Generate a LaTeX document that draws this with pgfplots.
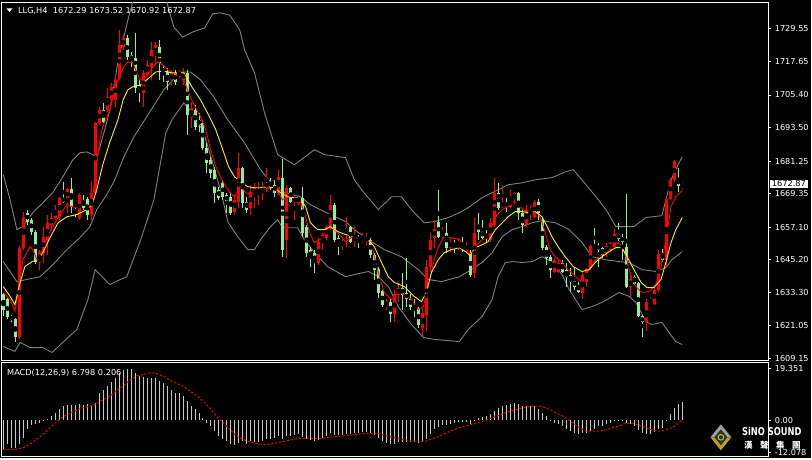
\documentclass[border=0pt]{standalone}
\usepackage{fontspec}
\setmainfont{DejaVu Sans}
\newfontfamily\cjk{Noto Sans CJK TC}
\usepackage{pgfplots}
\usepackage{pgfplotstable}
\pgfplotsset{compat=1.18}
\definecolor{upc}{RGB}{255,0,0}
\definecolor{dnc}{RGB}{144,238,144}
\definecolor{bandc}{RGB}{128,128,128}
\definecolor{histc}{RGB}{200,200,200}
\definecolor{goldc}{RGB}{190,160,20}

\pgfplotstableread{
k o h l c
4 1616.8 1650.4 1616.1 1649.6
5 1649.6 1662.8 1648.9 1660.6
9 1644.5 1648.9 1641.6 1648.2
10 1647.8 1657.3 1644.1 1653.6
11 1652.5 1661.7 1647.1 1658.7
12 1658.0 1662.4 1656.2 1660.6
13 1660.6 1665.3 1659.8 1663.5
14 1660.9 1668.2 1659.8 1667.9
16 1667.1 1671.5 1662.4 1671.2
19 1660.6 1669.7 1659.8 1669.0
22 1661.7 1673.7 1659.8 1669.7
23 1669.7 1695.6 1669.0 1695.2
24 1695.2 1701.1 1694.5 1700.0
26 1700.0 1708.0 1699.2 1704.7
27 1703.6 1709.8 1702.5 1708.4
28 1703.6 1712.7 1701.1 1710.9
29 1711.6 1729.2 1710.9 1723.7
30 1723.0 1727.3 1721.9 1726.2
35 1706.2 1714.6 1701.1 1713.5
36 1712.7 1718.2 1712.0 1716.4
37 1715.7 1724.8 1710.9 1721.9
38 1720.0 1724.8 1716.4 1723.7
42 1710.9 1714.6 1709.1 1713.5
44 1712.7 1714.6 1711.7 1713.5
45 1710.9 1715.3 1709.1 1713.8
47 1697.4 1702.9 1693.4 1700.7
58 1662.8 1669.0 1661.7 1667.1
59 1666.4 1684.3 1664.2 1678.8
62 1664.2 1672.6 1661.7 1670.1
63 1669.0 1673.3 1664.2 1671.5
64 1669.7 1673.7 1665.3 1670.8
65 1670.1 1673.7 1667.1 1671.5
66 1671.5 1678.8 1670.1 1673.3
69 1669.7 1678.1 1669.0 1675.5
71 1652.5 1672.6 1646.0 1671.5
73 1666.4 1668.2 1659.8 1667.9
74 1666.1 1669.0 1665.3 1668.2
79 1644.1 1653.3 1643.4 1651.8
80 1651.8 1655.1 1648.9 1654.4
81 1653.3 1658.0 1652.5 1657.3
82 1657.3 1669.0 1656.2 1665.3
85 1650.0 1653.3 1648.9 1651.4
86 1655.1 1660.9 1650.0 1656.9
88 1651.8 1657.3 1650.0 1653.3
90 1651.8 1655.1 1651.4 1652.9
91 1652.2 1655.1 1650.7 1653.3
96 1628.5 1630.7 1627.0 1629.6
98 1625.2 1634.3 1622.6 1632.5
99 1632.5 1636.8 1629.9 1635.0
105 1620.4 1627.7 1617.2 1625.9
106 1625.2 1645.2 1619.0 1642.7
107 1642.7 1655.1 1640.9 1652.5
108 1653.3 1659.8 1649.6 1656.6
110 1653.6 1657.3 1653.3 1655.1
112 1649.6 1653.3 1648.2 1651.4
114 1649.6 1653.3 1648.9 1651.1
116 1648.9 1651.8 1647.8 1650.0
118 1640.5 1660.6 1638.7 1655.1
122 1652.5 1660.6 1651.8 1658.7
123 1658.0 1675.2 1657.3 1669.7
125 1664.6 1672.6 1664.2 1666.1
127 1664.6 1670.8 1664.2 1667.5
128 1667.5 1670.1 1666.4 1669.7
131 1658.0 1665.3 1657.3 1663.5
132 1662.4 1665.3 1659.8 1663.8
133 1660.9 1667.1 1660.6 1666.4
138 1640.9 1646.0 1640.5 1645.2
139 1640.9 1645.2 1640.5 1644.1
145 1633.2 1640.9 1630.7 1639.8
146 1637.2 1642.3 1635.4 1642.0
147 1642.0 1650.7 1641.6 1650.4
151 1647.8 1651.4 1646.3 1650.4
152 1648.9 1651.8 1648.2 1651.4
153 1650.0 1656.6 1649.6 1654.7
157 1635.4 1640.9 1631.7 1638.3
161 1622.3 1630.7 1619.0 1629.6
162 1629.2 1631.7 1628.8 1629.9
163 1629.2 1635.0 1628.8 1634.3
164 1634.3 1648.9 1633.6 1647.4
166 1645.2 1667.9 1642.7 1667.5
167 1667.5 1675.2 1667.1 1674.4
168 1674.4 1681.7 1673.7 1681.4
170 1672.29 1673.52 1670.92 1672.87
}\upcandles

\pgfplotstableread{
k o h l c
0 1632.5 1633.2 1624.8 1627.0
1 1630.7 1631.4 1623.4 1624.1
2 1624.5 1625.2 1622.6 1623.4
3 1623.4 1624.1 1615.3 1616.8
6 1662.4 1663.5 1658.0 1659.1
7 1659.8 1660.6 1654.4 1655.5
8 1655.5 1656.2 1643.8 1644.5
15 1667.9 1673.7 1666.1 1666.4
17 1671.2 1675.2 1662.4 1664.6
18 1663.5 1664.6 1660.9 1662.4
20 1667.1 1669.0 1663.5 1664.2
21 1667.5 1668.2 1659.8 1661.7
25 1700.0 1702.5 1695.2 1695.6
31 1726.2 1727.3 1718.2 1719.3
32 1720.0 1721.1 1715.7 1718.2
33 1718.9 1728.1 1706.2 1708.0
34 1709.1 1710.9 1702.9 1706.5
39 1722.9 1725.5 1710.9 1717.1
40 1715.3 1716.4 1710.2 1713.8
41 1713.8 1715.3 1707.3 1710.2
43 1713.5 1714.6 1709.1 1710.2
46 1713.5 1714.6 1690.9 1698.2
48 1700.0 1701.8 1692.7 1693.8
49 1696.3 1698.9 1691.9 1694.5
50 1695.2 1696.3 1685.4 1686.1
51 1686.1 1687.9 1677.0 1680.6
52 1681.7 1682.8 1675.2 1677.0
53 1678.1 1679.2 1666.1 1669.7
54 1670.8 1671.9 1667.1 1667.9
55 1673.3 1674.4 1667.1 1668.2
56 1669.0 1669.7 1662.4 1666.4
57 1668.2 1670.1 1661.7 1662.4
60 1678.8 1679.2 1664.2 1666.1
61 1666.4 1668.2 1662.4 1663.5
67 1673.7 1675.2 1670.8 1671.5
68 1672.6 1674.4 1668.2 1669.7
70 1675.2 1682.1 1646.3 1648.9
72 1671.5 1671.9 1666.1 1666.4
75 1667.9 1671.9 1653.6 1655.1
76 1657.3 1658.0 1646.3 1647.8
77 1648.9 1650.0 1642.7 1646.0
78 1647.8 1648.9 1640.5 1644.1
83 1665.3 1666.1 1651.8 1652.5
84 1653.3 1654.4 1647.1 1650.7
87 1657.3 1657.6 1651.4 1651.8
89 1653.6 1654.4 1649.6 1652.2
92 1652.5 1653.3 1646.0 1647.1
93 1647.1 1647.8 1637.9 1641.6
94 1642.0 1642.7 1631.4 1633.2
95 1633.6 1634.3 1628.1 1628.8
97 1629.9 1631.4 1622.6 1625.2
100 1635.0 1640.5 1627.0 1632.5
101 1633.2 1646.0 1628.1 1630.7
102 1631.0 1632.5 1627.0 1628.1
103 1628.8 1630.7 1624.1 1627.0
104 1627.7 1628.1 1620.4 1621.5
109 1659.1 1670.8 1653.3 1653.6
111 1655.1 1658.7 1647.8 1649.6
113 1651.4 1652.5 1647.8 1650.0
115 1650.4 1653.6 1648.2 1649.3
117 1647.8 1648.9 1639.0 1639.8
119 1658.4 1662.4 1652.5 1655.5
120 1655.8 1659.8 1652.5 1653.3
121 1654.4 1656.2 1651.8 1652.9
124 1669.7 1673.3 1663.5 1664.2
126 1666.4 1667.9 1662.8 1664.6
129 1669.7 1670.1 1659.8 1662.4
130 1662.4 1663.5 1655.1 1658.0
134 1666.4 1667.5 1659.8 1662.4
135 1659.8 1660.9 1648.9 1649.6
136 1650.0 1650.7 1643.4 1646.0
137 1646.3 1647.1 1638.7 1641.6
140 1644.1 1645.2 1640.5 1640.9
141 1641.6 1644.1 1635.4 1639.0
142 1639.8 1642.3 1633.6 1637.2
143 1637.6 1642.3 1634.3 1635.4
144 1636.1 1637.2 1633.2 1633.6
148 1650.4 1656.9 1649.6 1650.0
149 1650.4 1651.4 1642.7 1648.9
150 1649.6 1650.0 1646.0 1647.1
154 1654.7 1658.7 1652.2 1652.9
155 1653.6 1654.7 1645.2 1651.8
156 1650.0 1669.3 1634.7 1635.4
158 1639.0 1639.8 1636.1 1636.5
159 1636.8 1637.2 1624.1 1624.5
160 1624.5 1625.2 1616.8 1622.3
165 1647.4 1649.3 1644.5 1645.2
169 1674.8 1678.8 1670.1 1672.3
}\dncandles

\begin{document}
\begin{tikzpicture}
\fill[black] (0pt,0pt) rectangle (812pt,459pt);

% ---------------- main price panel ----------------
\begin{axis}[
  at={(2pt,98pt)}, anchor=south west, scale only axis,
  width=767.5pt, height=358.5pt,
  xmin=-0.33, xmax=191.55, ymin=1608.41, ymax=1739.19,
  axis line style={white, line width=1pt},
  xtick=\empty,
  ytick={1609.15,1621.05,1633.30,1645.20,1657.10,1669.35,1681.25,1693.50,1705.40,1717.65,1729.55},
  yticklabels={1609.15,1621.05,1633.30,1645.20,1657.10,1669.35,1681.25,1693.50,1705.40,1717.65,1729.55},
  ytick pos=right, yticklabel pos=right,
  tick align=outside, major tick length=3pt,
  tick style={white, line width=0.8pt},
  yticklabel style={text=white, font=\fontsize{8.2}{9}\selectfont},
  /pgf/number format/assume math mode=true,
]
% Bollinger bands
\addplot[bandc, line width=0.9pt, mark=none] coordinates {
(0,1676.3) (1.7,1667.1) (3.4,1656.2) (4.9,1657.3) (7.4,1662.4) (9.9,1666.0) (12.4,1669.7) (14.9,1675.5) (17.4,1681.7) (19.2,1684.3) (20.9,1684.6) (22.4,1683.6) (23.4,1682.5) (24.2,1686.5) (25.4,1692.7) (26.7,1700.0) (28.7,1717.5) (30,1725.5) (31.2,1732.8) (32.4,1739.4) (34.2,1743.0) (36.7,1744.5) (39.2,1743.0) (40.9,1739.5) (42.7,1730.2) (44.9,1726.6) (47.4,1728.4) (50.4,1729.9) (52.4,1735.0) (54.2,1735.4) (56.7,1734.6) (59.2,1729.2) (60.4,1721.9) (62.9,1713.5) (65.4,1698.9) (68.7,1683.6) (72.9,1679.9) (77.9,1685.4) (80.4,1683.6) (85.7,1682.5) (87.9,1674.4) (89.7,1670.8) (93.9,1663.5) (97.2,1668.2) (99.7,1668.2) (102.2,1663.5) (105.4,1658.7) (107.9,1659.1) (111.4,1660.6) (114.2,1662.4) (116.4,1664.2) (119.9,1667.9) (122.4,1669.7) (126.4,1672.6) (129.9,1673.3) (133.2,1674.4) (137.4,1675.2) (140.7,1677.3) (142.7,1678.1) (144.9,1674.4) (148.4,1668.2) (150.9,1663.5) (153.4,1657.3) (157.9,1657.3) (160.9,1660.6) (164.9,1661.3) (165.9,1667.1) (167.2,1674.4) (169.2,1680.6) (170,1682.8)};
\addplot[bandc, line width=0.9pt, mark=none] coordinates {
(0,1644.5) (3.4,1637.2) (5.9,1638.0) (9.2,1639.0) (12.4,1643.4) (15.9,1648.9) (19.2,1653.3) (21.7,1657.3) (23.4,1663.5) (25.9,1669.0) (27.7,1673.7) (30.2,1682.8) (32.7,1690.1) (35.9,1697.4) (40.2,1707.3) (44.4,1713.8) (46.9,1713.8) (49.4,1710.9) (52.7,1704.7) (56.2,1696.3) (60.4,1687.9) (64.4,1678.1) (67.9,1671.9) (70.4,1669.7) (74.4,1668.2) (76.9,1665.3) (80.4,1662.8) (85.7,1659.1) (87.9,1656.2) (91.4,1652.5) (95.4,1648.9) (99.7,1646.3) (103.9,1641.6) (106.4,1638.0) (109.7,1637.2) (114.2,1639.0) (116.4,1640.9) (119.9,1644.2) (122.4,1647.8) (124.9,1653.6) (127.4,1656.2) (129.9,1657.3) (132.4,1658.7) (134.9,1659.5) (138.2,1658.7) (141.7,1656.2) (144.9,1651.5) (147.4,1646.3) (150.9,1645.2) (154.2,1644.5) (156.7,1644.2) (159.9,1641.6) (163.4,1640.9) (165.9,1642.3) (167.4,1645.2) (170,1648.2)};
\addplot[bandc, line width=0.9pt, mark=none] coordinates {
(0,1613.5) (2.9,1611.7) (4.2,1615.0) (6.7,1613.1) (9.9,1613.1) (12.2,1611.3) (14.9,1615.0) (18.4,1619.7) (21.2,1630.7) (23.0,1641.6) (24.2,1639.8) (26.7,1636.1) (27.7,1636.9) (30.9,1639.0) (34.4,1652.5) (37.7,1667.1) (40.7,1691.6) (42.2,1696.3) (45.2,1702.5) (47.7,1698.1) (50.2,1691.6) (52.7,1679.2) (54.7,1669.0) (56.2,1659.1) (58.7,1653.6) (61.2,1648.9) (62.9,1648.9) (64.4,1652.5) (66.9,1657.3) (68.7,1659.8) (69.9,1656.9) (73.7,1656.9) (75.4,1652.5) (77.9,1647.8) (81.2,1642.7) (85.7,1639.0) (87.9,1639.8) (91.4,1640.9) (93.9,1639.0) (96.4,1635.4) (98.9,1628.1) (102.2,1621.5) (105.2,1616.8) (107.9,1616.1) (114.2,1615.3) (116.4,1619.7) (119.9,1624.5) (122.4,1630.7) (123.9,1639.0) (125.7,1644.2) (127.7,1644.5) (129.9,1644.2) (132.4,1644.5) (134.9,1646.3) (137.4,1644.5) (139.9,1639.8) (141.7,1634.3) (144.9,1627.0) (147.4,1628.1) (149.9,1629.6) (154.2,1633.2) (156.7,1631.8) (158.4,1629.6) (160.9,1622.6) (162.4,1621.5) (164.9,1622.3) (166.7,1618.6) (168.4,1615.3) (170,1614.2)};

% candles: wicks
\addplot[only marks, mark=none, error bars/.cd, y dir=both, y explicit, error mark=none,
  error bar style={draw=upc, line width=1pt}]
  table[x=k, y expr={(\thisrow{h}+\thisrow{l})/2}, y error expr={(\thisrow{h}-\thisrow{l})/2}] {\upcandles};
\addplot[only marks, mark=none, error bars/.cd, y dir=both, y explicit, error mark=none,
  error bar style={draw=dnc, line width=1pt}]
  table[x=k, y expr={(\thisrow{h}+\thisrow{l})/2}, y error expr={(\thisrow{h}-\thisrow{l})/2}] {\dncandles};
% candles: bodies
\addplot[only marks, mark=none, error bars/.cd, y dir=both, y explicit, error mark=none,
  error bar style={draw=upc, line width=3pt}]
  table[x=k, y expr={(\thisrow{o}+\thisrow{c})/2}, y error expr={max(abs(\thisrow{c}-\thisrow{o})/2,0.2)}] {\upcandles};
\addplot[only marks, mark=none, error bars/.cd, y dir=both, y explicit, error mark=none,
  error bar style={draw=dnc, line width=3pt}]
  table[x=k, y expr={(\thisrow{o}+\thisrow{c})/2}, y error expr={max(abs(\thisrow{c}-\thisrow{o})/2,0.2)}] {\dncandles};

% fast moving average (red)
\addplot[upc, line width=0.9pt, mark=none] coordinates {
(0,1633.2) (1.7,1630.7) (2.9,1626.3) (3.9,1635.4) (4.9,1645.2) (6.7,1650.0) (7.4,1648.9) (8.4,1645.2) (9.7,1648.2) (10.9,1653.3) (12.4,1657.3) (14.2,1661.7) (15.9,1665.3) (17.2,1664.6) (18.4,1664.2) (19.9,1665.3) (21.2,1664.6) (22.2,1666.0) (23.2,1678.1) (24.2,1689.0) (24.9,1693.8) (26.7,1700.0) (27.7,1706.0) (28.4,1710.0) (29.5,1713.5) (30.3,1716.0) (31.2,1717.5) (32.4,1717.1) (33.4,1713.8) (34.2,1710.9) (34.9,1710.9) (36.2,1712.7) (37.4,1715.7) (38.7,1717.5) (39.9,1716.4) (41.2,1714.6) (42.4,1713.5) (43.7,1712.7) (44.9,1712.0) (45.9,1708.0) (47.2,1703.6) (48.4,1700.0) (49.4,1697.4) (50.7,1692.7) (51.9,1685.4) (53.2,1679.2) (54.4,1675.5) (55.7,1671.9) (57.2,1669.0) (57.9,1668.2) (59.4,1671.9) (60.7,1669.7) (61.9,1669.0) (63.7,1670.1) (65.4,1670.8) (66.9,1671.5) (68.7,1670.1) (69.9,1667.1) (71.2,1668.2) (72.9,1667.9) (74.2,1667.1) (75.4,1662.4) (76.7,1655.1) (77.9,1651.5) (79.2,1652.5) (80.4,1655.1) (81.7,1656.9) (82.9,1656.2) (84.2,1654.4) (85.7,1651.8) (87.2,1653.3) (89.7,1652.5) (92.2,1651.8) (92.9,1646.3) (94.2,1639.0) (95.4,1633.2) (97.2,1630.7) (98.9,1633.2) (100.4,1632.5) (102.2,1630.7) (103.9,1627.0) (105.2,1628.1) (106.4,1635.4) (107.7,1644.2) (108.9,1649.6) (110.2,1653.3) (112.2,1653.3) (114.2,1652.5) (115.7,1649.6) (116.9,1647.1) (118.2,1650.0) (119.9,1652.5) (121.4,1653.3) (123.2,1660.9) (124.9,1663.5) (126.4,1664.6) (127.7,1666.4) (128.9,1665.3) (130.2,1663.5) (131.4,1662.4) (133.2,1662.8) (134.4,1660.9) (135.7,1655.1) (136.9,1648.9) (138.2,1646.3) (139.9,1644.2) (141.4,1641.6) (143.4,1639.0) (144.9,1636.9) (146.2,1640.5) (147.9,1644.5) (149.9,1647.1) (151.7,1648.9) (153.4,1651.5) (154.7,1650.7) (155.9,1646.3) (157.2,1639.0) (158.4,1635.4) (159.9,1633.2) (161.7,1633.6) (163.4,1636.1) (164.7,1642.7) (165.9,1652.5) (167.2,1664.6) (168.4,1668.2) (170,1670.5)};
% slow moving average (yellow)
\addplot[yellow, line width=0.9pt, mark=none] coordinates {
(0,1635.4) (1.7,1631.8) (2.9,1628.8) (4.2,1636.9) (5.4,1642.7) (7.2,1644.5) (8.7,1645.2) (9.9,1647.8) (11.7,1653.3) (13.7,1658.7) (15.9,1660.9) (18.4,1661.7) (20.9,1663.5) (22.2,1665.3) (23.4,1670.8) (24.9,1679.9) (26.7,1688.3) (28.7,1696.3) (30,1703.6) (31.2,1707.3) (32.4,1708.4) (34.4,1709.1) (35.9,1710.9) (38.2,1713.8) (40.2,1714.2) (42.2,1713.5) (45.2,1713.5) (47.2,1708.4) (49.4,1703.6) (51.4,1698.1) (53.2,1692.7) (54.7,1686.5) (56.4,1679.2) (57.9,1675.5) (59.4,1673.7) (61.2,1671.9) (62.9,1671.5) (64.4,1671.5) (66.2,1671.9) (67.9,1671.5) (69.4,1669.7) (71.2,1668.2) (72.9,1667.9) (74.4,1667.5) (75.7,1664.6) (76.9,1658.7) (78.7,1656.2) (80.4,1656.2) (81.9,1657.3) (83.7,1655.5) (85.7,1654.4) (87.9,1653.6) (91.4,1652.5) (92.9,1650.0) (94.7,1644.2) (96.4,1639.0) (97.9,1636.9) (100.4,1635.4) (102.9,1631.8) (104.7,1629.9) (105.9,1633.2) (107.2,1640.5) (108.9,1645.2) (110.4,1647.8) (112.2,1648.9) (114.2,1649.6) (115.7,1648.2) (116.9,1646.7) (118.2,1649.6) (119.9,1650.7) (121.4,1651.8) (123.2,1656.2) (124.9,1658.7) (126.4,1660.9) (128.2,1662.8) (129.9,1662.8) (131.4,1662.4) (133.2,1662.8) (134.9,1660.9) (136.2,1657.3) (137.4,1653.6) (138.9,1650.0) (140.7,1646.3) (142.7,1642.7) (144.9,1640.9) (146.7,1641.6) (148.4,1644.5) (149.9,1646.3) (151.7,1648.2) (153.4,1649.6) (154.9,1649.6) (156.2,1646.3) (157.9,1641.6) (159.7,1636.9) (161.2,1635.0) (162.9,1635.0) (164.7,1638.0) (165.9,1644.2) (167.2,1651.5) (168.4,1656.2) (170,1660.6)};
\coordinate (pbox) at (axis cs:191.55,1672.87);
\end{axis}

% ---------------- MACD panel ----------------
\begin{axis}[
  at={(2pt,2pt)}, anchor=south west, scale only axis,
  width=767.5pt, height=94pt,
  xmin=-0.33, xmax=191.55, ymin=-13.40, ymax=21.59,
  axis line style={white, line width=1pt},
  xtick=\empty,
  ytick={-12.078,0,19.351},
  yticklabels={-12.078,0.00,19.351},
  ytick pos=right, yticklabel pos=right,
  tick align=outside, major tick length=3pt,
  tick style={white, line width=0.8pt},
  yticklabel style={text=white, font=\fontsize{8.2}{9}\selectfont},
  /pgf/number format/assume math mode=true,
]
\addplot[ycomb, histc, line width=1pt, mark=none] coordinates {
(0,-10.8) (1,-8.9) (2,-10.2) (3,-10.2) (4,-8.9) (5,-6.5) (6,-3.3) (7,-1.7) (8,-1.5) (9,-0.9) (10,-0.2) (11,0.4) (12,1.6) (13,2.9) (14,4.1) (15,5.3) (16,5.7) (17,5.7) (18,5.7) (19,6.2) (20,5.7) (21,6.0) (22,5.7) (23,6.6) (24,10.3) (25,11.3) (26,12.8) (27,14.3) (28,15.9) (29,17.5) (30,18.7) (31,19.0) (32,19.0) (33,17.7) (34,16.5) (35,16.3) (36,15.6) (37,15.6) (38,15.6) (39,14.6) (40,13.8) (41,12.8) (42,11.3) (43,10.3) (44,10.3) (45,9.1) (46,7.2) (47,5.3) (48,4.1) (49,2.9) (50,1.0) (51,-0.9) (52,-2.1) (53,-4.0) (54,-5.8) (55,-7.1) (56,-7.7) (57,-8.9) (58,-9.3) (59,-8.3) (60,-7.7) (61,-8.9) (62,-7.7) (63,-8.1) (64,-8.1) (65,-7.7) (66,-7.1)
(67,-6.8) (68,-6.5) (69,-6.0) (70,-7.0) (71,-6.0) (72,-5.8) (73,-5.4) (74,-5.1) (75,-6.3) (76,-7.0) (77,-7.5) (78,-7.8) (79,-7.3) (80,-6.7) (81,-5.9) (82,-4.9) (83,-5.3) (84,-5.5) (85,-5.4) (86,-5.0) (87,-5.0) (88,-4.8) (89,-4.6) (90,-4.4) (91,-4.2) (92,-4.6) (93,-5.4) (94,-6.6) (95,-7.7) (96,-8.3) (97,-9.0) (98,-8.7) (99,-8.2) (100,-8.0) (101,-7.9) (102,-8.0) (103,-8.1) (104,-8.5) (105,-8.2) (106,-6.8) (107,-5.0) (108,-3.4) (109,-2.5) (110,-1.8) (111,-1.6) (112,-1.2) (113,-0.9) (114,-0.7) (115,-0.6) (116,-0.5) (117,-1.2) (118,0.3) (119,1.0) (120,1.4) (121,1.7) (122,2.3) (123,3.5) (124,4.5) (125,5.2) (126,5.7) (127,6.1) (128,6.5) (129,6.0) (130,5.5) (131,5.3) (132,5.2) (133,5.2) (134,4.3)
(135,2.8) (136,1.6) (137,0.2) (138,-0.9) (139,-1.5) (140,-2.1) (141,-3.3) (142,-4.0) (143,-4.6) (144,-5.2) (145,-4.8) (146,-4.8) (147,-4.0) (148,-3.3) (149,-2.1) (150,-2.1) (151,-1.5) (152,-1.1) (153,-0.4) (154,-0.4) (155,-0.4) (156,-0.9) (157,-1.2) (158,-2.1) (159,-3.6) (160,-4.6) (161,-5.2) (162,-5.2) (163,-4.3) (164,-3.3) (165,-2.7) (166,-0.2) (167,2.2) (168,4.7) (169,6.0) (170,6.798)};
\addplot[upc, line width=1pt, dash pattern=on 2pt off 2pt, mark=none] coordinates {
(0,-10.8) (3,-10.8) (5,-10.2) (6.7,-8.9) (8.3,-7.1) (10,-5.2) (11.7,-2.7) (13.3,-0.6) (15,1.4) (16.7,2.6) (18.3,3.8) (20,4.7) (21.7,5.3) (23.3,6.2) (25,7.6) (26.7,9.1) (28.3,10.9) (30,12.8) (31.7,15.0) (33.3,16.5) (35,17.1) (36.7,17.7) (38.3,17.5) (40,16.5) (41.7,15.0) (43.3,13.8) (45,12.8) (46.7,10.9) (48.3,9.4) (50,7.2) (51.7,4.7) (53.3,1.6) (55,-0.9) (56.7,-3.3) (58.3,-5.8) (60,-7.1) (61.7,-8.1) (63.3,-8.6) (65,-9.1) (66.7,-8.9)
(70,-7.9) (73,-7.0) (76,-6.6) (79,-6.8) (82,-6.3) (85,-5.8) (88,-5.3) (91,-4.8) (94,-5.0) (97,-6.2) (100,-7.2) (103,-7.8) (106,-7.7) (109,-6.0) (112,-4.0) (115,-2.4) (118,-1.2) (121,0.1) (124,1.8) (127,3.5) (130,4.7) (132.5,5.3)
(134.2,5.3) (135.8,4.7) (137.5,3.5) (139.2,2.2) (140.8,1.0) (142.5,-0.9) (144.2,-2.7) (145.8,-4.0) (147.5,-4.0) (149.2,-4.0) (150.8,-3.6) (152.5,-2.7) (154.2,-2.1) (155.8,-1.1) (157.5,-1.1) (159.2,-1.7) (160.8,-2.7) (162.5,-3.6) (164.2,-4.0) (165.8,-3.6) (167.5,-2.7) (169.2,-0.9) (170,0.206)};
\end{axis}

% current price box
\node[anchor=west, fill=white, text=black, inner xsep=2pt, inner ysep=1pt, font=\fontsize{8.2}{9}\selectfont, xshift=1.5pt] at (pbox) {1672.87};

% titles
\fill[white] (6.5pt,450.5pt) -- (12.5pt,450.5pt) -- (9.5pt,447pt) -- cycle;
\node[anchor=west, inner sep=0pt, text=white, font=\fontsize{8.2}{9}\selectfont] at (18pt,448pt) {LLG,H4\ \ 1672.29 1673.52 1670.92 1672.87};
\node[anchor=west, inner sep=0pt, text=white, font=\fontsize{8.2}{9}\selectfont] at (7pt,85.5pt) {MACD(12,26,9) 6.798 0.206};

% logo
\fill[gray!75] (711.5pt,21pt) -- (722pt,34pt) -- (732.5pt,21pt) -- cycle;
\fill[goldc] (711.5pt,21pt) -- (722pt,8pt) -- (732.5pt,21pt) -- cycle;
\fill[black!85!olive] (715.5pt,21pt) -- (722pt,29pt) -- (728.5pt,21pt) -- (722pt,13pt) -- cycle;
\draw[yellow!60!green, line width=1pt] (722pt,21pt) circle (2.8pt);
\node[text=white, inner sep=0pt, font=\bfseries\fontsize{8.3}{8}\selectfont] at (773pt,27pt) {\scalebox{1}[1.3]{SiNO SOUND}};
\node[text=white, inner sep=0pt, font=\cjk\bfseries\fontsize{8.5}{9}\selectfont] at (773.5pt,13pt) {漢\hspace{7.5pt}聲\hspace{7.5pt}集\hspace{7.5pt}團};
\end{tikzpicture}
\end{document}
